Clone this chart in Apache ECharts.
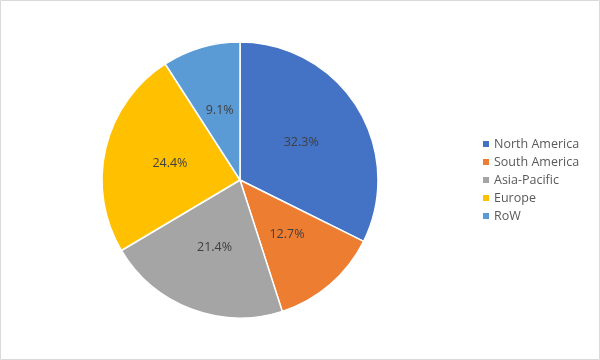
<!DOCTYPE html>
<html><head><meta charset="utf-8">
<script src="https://cdn.jsdelivr.net/npm/echarts@6/dist/echarts.min.js"></script>
<style>html,body{margin:0;padding:0;background:#fff}#c{width:600px;height:360px}</style>
</head><body><div id="c"></div>
<script>
const categories = ['North America','South America','Asia-Pacific','Europe','RoW'];
const values = [32.3, 12.7, 21.4, 24.4, 9.1];
const colors = ['#4472C4','#ED7D31','#A5A5A5','#FFC000','#5B9BD5'];

const chart = echarts.init(document.getElementById('c'), null, {renderer:'canvas'});
chart.setOption({
  animation:false,
  color: colors,
  graphic:[{type:'rect', shape:{x:0.5,y:0.5,width:599,height:359}, style:{fill:'none', stroke:'#D9D9D9', lineWidth:1}}],
  legend:{
    orient:'vertical', left:476, top:'middle',
    itemWidth:8, itemHeight:8, itemGap:5, icon:'rect',
    textStyle:{color:'#595959', fontSize:12.5, lineHeight:13, fontFamily:'Open Sans', padding:[0,0,0,-1]},
    data: categories
  },
  series:[{
    type:'pie', center:[240,180], radius:138, startAngle:90, clockwise:true,
    itemStyle:{borderColor:'#fff', borderWidth:1.5},
    label:{show:true, position:'inside', formatter: p => p.value.toFixed(1)+'%', color:'#404040', fontSize:12.5, fontFamily:'Open Sans', padding:[4,0,0,0]},
    labelLine:{show:false},
    emphasis:{disabled:true},
    data: categories.map((n,i)=>({name:n, value:values[i]}))
  }]
});
</script></body></html>
